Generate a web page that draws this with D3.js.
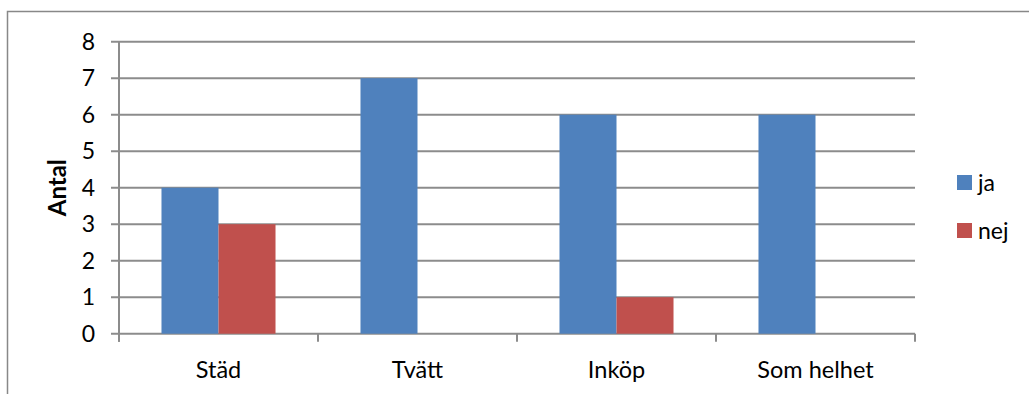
<!DOCTYPE html>
<html>
<head>
<meta charset="utf-8">
<script src="https://cdn.jsdelivr.net/npm/d3@7"></script>
<style>
  html, body { margin: 0; padding: 0; background: #fff; }
  svg { display: block; }
  text { font-family: Lato, "Open Sans", sans-serif; fill: #000; }
</style>
</head>
<body>
<svg id="chart" width="1029" height="394"></svg>
<script>
// Survey answers per area
const categories = ["Städ", "Tvätt", "Inköp", "Som helhet"];
const seriesNames = ["ja", "nej"];
const jaValues = [4, 7, 6, 6];
const nejValues = [3, 0, 1, 0];
const yTicks = [0, 1, 2, 3, 4, 5, 6, 7, 8];
const colors = ["#4F81BD", "#C0504D"];

const svg = d3.select("#chart");
const W = 1029, H = 394;

// outer frame (open at right and bottom edge)
svg.append("path")
  .attr("d", `M7.5,${H}V11.5H${W}`)
  .attr("fill", "none").attr("stroke", "#888").attr("stroke-width", 1.5);

const plot = { left: 119, right: 915, top: 41.7, bottom: 333.7 };

const x = d3.scaleBand().domain(categories).range([plot.left, plot.right]).paddingInner(0).paddingOuter(0);
const y = d3.scaleLinear().domain([0, 8]).range([plot.bottom, plot.top]);
const groupFrac = 0.573;
const xs = d3.scaleBand().domain(seriesNames).range([0, x.bandwidth() * groupFrac]);

// gridlines + left tick marks
const gridG = svg.append("g");
gridG.selectAll("line.grid").data(yTicks).join("line")
  .attr("x1", plot.left - 8).attr("x2", plot.right)
  .attr("y1", d => y(d)).attr("y2", d => y(d))
  .attr("stroke", "#8c8c8c").attr("stroke-width", 2);

// bars
const rows = categories.map((c, i) => ({ cat: c, vals: [jaValues[i], nejValues[i]] }));
const groups = svg.append("g").selectAll("g").data(rows).join("g")
  .attr("transform", d => `translate(${x(d.cat) + x.bandwidth() * (1 - groupFrac) / 2},0)`);
groups.selectAll("rect").data(d => d.vals.map((v, k) => ({ v, k }))).join("rect")
  .attr("x", d => xs(seriesNames[d.k]))
  .attr("width", xs.bandwidth())
  .attr("y", d => y(d.v))
  .attr("height", d => y(0) - y(d.v))
  .attr("fill", d => colors[d.k]);

// y axis line
svg.append("line")
  .attr("x1", plot.left).attr("x2", plot.left)
  .attr("y1", plot.top).attr("y2", plot.bottom + 8)
  .attr("stroke", "#8c8c8c").attr("stroke-width", 2);

// category tick marks at band boundaries
const bounds = categories.map(c => x(c)).concat([plot.right]);
svg.append("g").selectAll("line").data(bounds).join("line")
  .attr("x1", d => d).attr("x2", d => d)
  .attr("y1", plot.bottom).attr("y2", plot.bottom + 8)
  .attr("stroke", "#8c8c8c").attr("stroke-width", 2);

// y tick labels
svg.append("g").selectAll("text").data(yTicks).join("text")
  .attr("x", 95).attr("y", d => y(d))
  .attr("dy", "0.36em")
  .attr("text-anchor", "end")
  .attr("font-size", 23)
  .text(d => d);

// category labels
svg.append("g").selectAll("text").data(categories).join("text")
  .attr("x", d => x(d) + x.bandwidth() / 2)
  .attr("y", 378)
  .attr("text-anchor", "middle")
  .attr("font-size", 23.5)
  .text(d => d);

// y axis title
svg.append("text")
  .attr("transform", `translate(66,${(plot.top + plot.bottom) / 2}) rotate(-90)`)
  .attr("text-anchor", "middle")
  .attr("font-size", 24).attr("font-weight", "bold")
  .text("Antal");

// legend
const legend = svg.append("g").selectAll("g").data(seriesNames).join("g")
  .attr("transform", (d, i) => `translate(957,${175 + i * 48})`);
legend.append("rect").attr("width", 15).attr("height", 15).attr("fill", (d, i) => colors[i]);
legend.append("text").attr("x", 21).attr("y", 7.5).attr("dy", "0.36em")
  .attr("font-size", 23).text(d => d);
</script>
</body>
</html>
